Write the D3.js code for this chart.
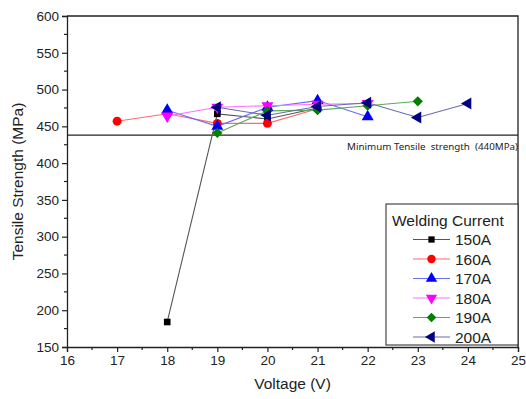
<!DOCTYPE html>
<html>
<head>
<meta charset="utf-8">
<script src="https://cdn.jsdelivr.net/npm/d3@7"></script>
<style>
  body { margin: 0; background: #fff; }
  svg { font-family: "Liberation Sans", Arial, sans-serif; }
</style>
</head>
<body>
<svg id="chart" width="526" height="399"></svg>
<script>
// data
var voltages150 = [18, 19, 20, 21];
var strength150 = [184, 467, 460, 475];
var voltages160 = [17, 18, 19, 20, 21];
var strength160 = [457, 467, 454, 454, 474];
var voltages170 = [18, 19, 20, 21, 22];
var strength170 = [472, 450, 476, 485, 463];
var voltages180 = [18, 19, 20, 21, 22];
var strength180 = [464, 476, 478, 480, 481];
var voltages190 = [19, 20, 21, 22, 23];
var strength190 = [441, 471, 472, 478, 484];
var voltages200 = [19, 20, 21, 22, 23, 24];
var strength200 = [476, 465, 477, 482, 462, 481];
var seriesNames = ["150A", "160A", "170A", "180A", "190A", "200A"];
var minStrength = 438;
var xTicks = [16, 17, 18, 19, 20, 21, 22, 23, 24, 25];
var yTicks = [150, 200, 250, 300, 350, 400, 450, 500, 550, 600];

var series = [
  { name: seriesNames[0], xs: voltages150, ys: strength150, color: "#000000", line: "#555555", symbol: "square" },
  { name: seriesNames[1], xs: voltages160, ys: strength160, color: "#ff0000", line: "#ff6a6a", symbol: "circle" },
  { name: seriesNames[2], xs: voltages170, ys: strength170, color: "#0000ff", line: "#6a6aff", symbol: "up" },
  { name: seriesNames[3], xs: voltages180, ys: strength180, color: "#ff00ff", line: "#ff70ff", symbol: "down" },
  { name: seriesNames[4], xs: voltages190, ys: strength190, color: "#008000", line: "#5aaa5a", symbol: "diamond" },
  { name: seriesNames[5], xs: voltages200, ys: strength200, color: "#000080", line: "#6a6ab0", symbol: "left" }
];

var plotL = 67, plotT = 16, plotR = 518, plotB = 347;
var svg = d3.select("#chart");
var x = d3.scaleLinear().domain([16, 25]).range([plotL, plotR]);
var y = d3.scaleLinear().domain([150, 600]).range([plotB, plotT]);

// marker shape + rotation for each symbol name
function markerPath(s, k) {
  switch (s.symbol) {
    case "square": return d3.symbol().type(d3.symbolSquare).size(44 * k)();
    case "circle": return d3.symbol().type(d3.symbolCircle).size(62 * k)();
    case "diamond": return d3.symbol().type(d3.symbolSquare).size(52 * k)();
    default: return d3.symbol().type(d3.symbolTriangle).size(62 * k)();
  }
}
function markerRot(s) {
  if (s.symbol === "down") return 180;
  if (s.symbol === "left") return -90;
  if (s.symbol === "diamond") return 45;
  return 0;
}

// axes
var xAxis = svg.append("g").attr("transform", "translate(0," + plotB + ")")
  .call(d3.axisBottom(x).tickValues(xTicks).tickFormat(d3.format("d")).tickSize(5).tickPadding(3));
var yAxis = svg.append("g").attr("transform", "translate(" + plotL + ",0)")
  .call(d3.axisLeft(y).tickValues(yTicks).tickSize(5).tickPadding(3));
[xAxis, yAxis].forEach(function (g) {
  g.select(".domain").attr("stroke", "#222").attr("stroke-width", 1.3);
  g.selectAll(".tick line").attr("stroke", "#222").attr("stroke-width", 1.2);
  g.selectAll(".tick text").attr("font-size", 13.5).attr("fill", "#222")
    .attr("font-family", "Liberation Sans, Arial, sans-serif");
});
// minor ticks
svg.append("g").selectAll("line").data(d3.range(16.5, 25, 1)).join("line")
  .attr("x1", function (d) { return x(d); }).attr("x2", function (d) { return x(d); })
  .attr("y1", plotB).attr("y2", plotB + 3).attr("stroke", "#222").attr("stroke-width", 1.2);
svg.append("g").selectAll("line").data(d3.range(175, 600, 50)).join("line")
  .attr("y1", function (d) { return y(d); }).attr("y2", function (d) { return y(d); })
  .attr("x1", plotL).attr("x2", plotL - 3).attr("stroke", "#222").attr("stroke-width", 1.2);
// top and right frame
svg.append("path")
  .attr("d", "M" + plotL + "," + plotT + "H" + plotR + "V" + plotB)
  .attr("fill", "none").attr("stroke", "#222").attr("stroke-width", 1.3);

// axis titles
svg.append("text").attr("x", x(20.5)).attr("y", 389).attr("text-anchor", "middle")
  .attr("font-size", 15.5).attr("fill", "#222").text("Voltage (V)");
svg.append("text").attr("transform", "translate(23," + y(375) + ") rotate(-90)")
  .attr("text-anchor", "middle").attr("font-size", 15.5).attr("fill", "#222")
  .text("Tensile Strength (MPa)");

// minimum strength line
svg.append("line").attr("x1", plotL).attr("x2", plotR)
  .attr("y1", y(minStrength)).attr("y2", y(minStrength))
  .attr("stroke", "#222").attr("stroke-width", 1.2);
svg.append("text").attr("x", 347).attr("y", y(minStrength) + 15)
  .attr("font-size", 9.8).attr("fill", "#222").attr("font-family", "Noto Sans, sans-serif")
  .attr("xml:space", "preserve")
  .text("Minimum Tensile  strength  (440MPa)");

// series
var lineGen = d3.line().x(function (d) { return x(d[0]); }).y(function (d) { return y(d[1]); });
series.forEach(function (s) {
  var pts = s.xs.map(function (v, i) { return [v, s.ys[i]]; });
  svg.append("path").attr("d", lineGen(pts)).attr("fill", "none")
    .attr("stroke", s.line).attr("stroke-width", 1.1);
});
series.forEach(function (s) {
  var pts = s.xs.map(function (v, i) { return [v, s.ys[i]]; });
  svg.append("g").selectAll("path").data(pts).join("path")
    .attr("d", markerPath(s, 1)).attr("fill", s.color)
    .attr("transform", function (d) {
      return "translate(" + x(d[0]) + "," + y(d[1]) + ") rotate(" + markerRot(s) + ")";
    });
});

// legend
var lg = svg.append("g");
lg.append("rect").attr("x", 386).attr("y", 204).attr("width", plotR - 386).attr("height", 141)
  .attr("fill", "#fff").attr("stroke", "#222").attr("stroke-width", 1);
lg.append("text").attr("x", 392).attr("y", 226).attr("font-size", 15.5).attr("fill", "#222")
  .text("Welding Current");
series.forEach(function (s, i) {
  var ly = 239.5 + i * 19.5;
  lg.append("line").attr("x1", 413).attr("x2", 450).attr("y1", ly).attr("y2", ly)
    .attr("stroke", s.line).attr("stroke-width", 1.1);
  lg.append("path").attr("d", markerPath(s, 0.9)).attr("fill", s.color)
    .attr("transform", "translate(431.5," + ly + ") rotate(" + markerRot(s) + ")");
  lg.append("text").attr("x", 455).attr("y", ly + 5.5).attr("font-size", 15.5).attr("fill", "#222")
    .text(s.name);
});
</script>
</body>
</html>
